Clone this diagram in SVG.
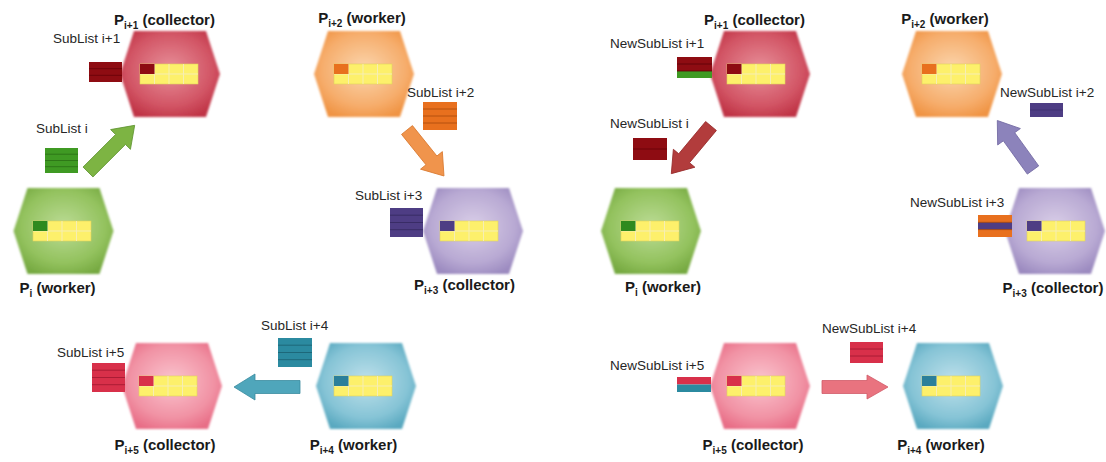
<svg xmlns="http://www.w3.org/2000/svg" xmlns:xlink="http://www.w3.org/1999/xlink" width="1106" height="462" viewBox="0 0 1106 462">
  <style>
    .lbl { font-family: "Liberation Sans", Arial, sans-serif; font-size: 13.5px; fill: #262626; }
    .ttl { font-family: "Liberation Sans", Arial, sans-serif; font-size: 15px; font-weight: bold; fill: #1a1a1a; text-anchor: middle; }
    .sub { font-size: 10px; }
    .hexshape { filter: url(#soft); }
    .arrow { stroke-width: 0.8; }
  </style>
  <defs>
    <filter id="soft" x="-10%" y="-10%" width="120%" height="120%">
      <feGaussianBlur stdDeviation="0.9"/>
    </filter>
    <radialGradient id="gRed" cx="50%" cy="45%" r="60%">
      <stop offset="0" stop-color="#e8909a"/>
      <stop offset="0.7" stop-color="#d25565"/>
      <stop offset="1" stop-color="#c03446"/>
    </radialGradient>
    <radialGradient id="gOrange" cx="50%" cy="45%" r="60%">
      <stop offset="0" stop-color="#fbd6ae"/>
      <stop offset="0.7" stop-color="#f6ad6c"/>
      <stop offset="1" stop-color="#f09444"/>
    </radialGradient>
    <radialGradient id="gGreen" cx="50%" cy="45%" r="60%">
      <stop offset="0" stop-color="#bcdc96"/>
      <stop offset="0.7" stop-color="#93c25e"/>
      <stop offset="1" stop-color="#77aa42"/>
    </radialGradient>
    <radialGradient id="gPurple" cx="50%" cy="45%" r="60%">
      <stop offset="0" stop-color="#dacfe8"/>
      <stop offset="0.7" stop-color="#b8a9d3"/>
      <stop offset="1" stop-color="#9c8bc0"/>
    </radialGradient>
    <radialGradient id="gPink" cx="50%" cy="45%" r="60%">
      <stop offset="0" stop-color="#fac5cf"/>
      <stop offset="0.7" stop-color="#f192a4"/>
      <stop offset="1" stop-color="#e86e87"/>
    </radialGradient>
    <radialGradient id="gTeal" cx="50%" cy="45%" r="60%">
      <stop offset="0" stop-color="#bfe1eb"/>
      <stop offset="0.7" stop-color="#86c4d6"/>
      <stop offset="1" stop-color="#5aa9c0"/>
    </radialGradient>
    <!-- flat-topped hexagon centred on the origin -->
    <polygon id="hex" class="hexshape" points="-50,0 -36,-43 36,-43 50,0 36,43 -36,43"/>
    <!-- 4 x 2 list of yellow slots -->
    <g id="grid">
      <rect width="58" height="20" fill="#fdf06b" stroke="#e2d25a" stroke-width="0.6"/>
      <path d="M14.5 0V20M29 0V20M43.5 0V20M0 10H58" stroke="#f6eeb4" stroke-width="1"/>
    </g>
  </defs>

  <rect width="1106" height="462" fill="#ffffff"/>

  <!-- ===== left ring: sending sublists ===== -->
  <g id="L-Pi1">
    <use xlink:href="#hex" href="#hex" transform="translate(170,74)" fill="url(#gRed)"/>
    <use xlink:href="#grid" href="#grid" x="140" y="64"/>
    <rect x="140" y="64" width="14.5" height="10" fill="#8e0c12"/>
    <text class="ttl" x="164.5" y="25">P<tspan class="sub" dy="4">i+1</tspan><tspan dy="-4"> (collector)</tspan></text>
  </g>
  <g id="L-Pi2">
    <use xlink:href="#hex" href="#hex" transform="translate(364,74)" fill="url(#gOrange)"/>
    <use xlink:href="#grid" href="#grid" x="334" y="64"/>
    <rect x="334" y="64" width="14.5" height="10" fill="#e8701e"/>
    <text class="ttl" x="362" y="23">P<tspan class="sub" dy="4">i+2</tspan><tspan dy="-4"> (worker)</tspan></text>
  </g>
  <g id="L-Pi">
    <use xlink:href="#hex" href="#hex" transform="translate(63.5,231)" fill="url(#gGreen)"/>
    <use xlink:href="#grid" href="#grid" x="33" y="221"/>
    <rect x="33" y="221" width="14.5" height="10" fill="#2f8a1e"/>
    <text class="ttl" x="57.5" y="293">P<tspan class="sub" dy="4">i</tspan><tspan dy="-4"> (worker)</tspan></text>
  </g>
  <g id="L-Pi3">
    <use xlink:href="#hex" href="#hex" transform="translate(473,231)" fill="url(#gPurple)"/>
    <use xlink:href="#grid" href="#grid" x="440" y="221"/>
    <rect x="440" y="221" width="14.5" height="10" fill="#4e3d84"/>
    <text class="ttl" x="464.5" y="290">P<tspan class="sub" dy="4">i+3</tspan><tspan dy="-4"> (collector)</tspan></text>
  </g>
  <g id="L-Pi5">
    <use xlink:href="#hex" href="#hex" transform="translate(172,386)" fill="url(#gPink)"/>
    <use xlink:href="#grid" href="#grid" x="139" y="376"/>
    <rect x="139" y="376" width="14.5" height="10" fill="#d8304a"/>
    <text class="ttl" x="165" y="450">P<tspan class="sub" dy="4">i+5</tspan><tspan dy="-4"> (collector)</tspan></text>
  </g>
  <g id="L-Pi4">
    <use xlink:href="#hex" href="#hex" transform="translate(366,386)" fill="url(#gTeal)"/>
    <use xlink:href="#grid" href="#grid" x="334" y="376"/>
    <rect x="334" y="376" width="14.5" height="10" fill="#2b7f9a"/>
    <text class="ttl" x="353.5" y="450">P<tspan class="sub" dy="4">i+4</tspan><tspan dy="-4"> (worker)</tspan></text>
  </g>

  <!-- left sublists -->
  <g id="L-sub1">
    <text class="lbl" x="53" y="43">SubList i+1</text>
    <rect x="89" y="62" width="33" height="20" fill="#8e0c12"/>
    <path d="M89 68.7H122M89 75.3H122" stroke="#640008" stroke-width="0.8"/>
  </g>
  <g id="L-sub0">
    <text class="lbl" x="36" y="133">SubList i</text>
    <rect x="45" y="148" width="33" height="25" fill="#3f9a23"/>
    <path d="M45 154.2H78M45 160.5H78M45 166.7H78" stroke="#2a6e14" stroke-width="0.8"/>
  </g>
  <g id="L-sub2">
    <text class="lbl" x="407" y="97">SubList i+2</text>
    <rect x="423" y="102" width="34" height="28" fill="#e8701e"/>
    <path d="M423 109H457M423 116H457M423 123H457" stroke="#a84a0a" stroke-width="0.8"/>
  </g>
  <g id="L-sub3">
    <text class="lbl" x="355" y="200">SubList i+3</text>
    <rect x="390" y="208" width="33" height="29" fill="#4e3d84"/>
    <path d="M390 215.2H423M390 222.5H423M390 229.7H423" stroke="#34285e" stroke-width="0.8"/>
  </g>
  <g id="L-sub4">
    <text class="lbl" x="261" y="330">SubList i+4</text>
    <rect x="278" y="338" width="34" height="29" fill="#2b8aa0"/>
    <path d="M278 345.2H312M278 352.5H312M278 359.7H312" stroke="#1b6070" stroke-width="0.8"/>
  </g>
  <g id="L-sub5">
    <text class="lbl" x="57" y="357">SubList i+5</text>
    <rect x="92" y="363" width="33" height="29" fill="#d8304a"/>
    <path d="M92 370.2H125M92 377.5H125M92 384.7H125" stroke="#a01830" stroke-width="0.8"/>
  </g>

  <!-- ===== right ring: returning new sublists ===== -->
  <g id="R-Pi1">
    <use xlink:href="#hex" href="#hex" transform="translate(760,74)" fill="url(#gRed)"/>
    <use xlink:href="#grid" href="#grid" x="727" y="64"/>
    <rect x="727" y="64" width="14.5" height="10" fill="#8e0c12"/>
    <text class="ttl" x="754.5" y="25">P<tspan class="sub" dy="4">i+1</tspan><tspan dy="-4"> (collector)</tspan></text>
  </g>
  <g id="R-Pi2">
    <use xlink:href="#hex" href="#hex" transform="translate(952,74)" fill="url(#gOrange)"/>
    <use xlink:href="#grid" href="#grid" x="922" y="64"/>
    <rect x="922" y="64" width="14.5" height="10" fill="#e8701e"/>
    <text class="ttl" x="945" y="24">P<tspan class="sub" dy="4">i+2</tspan><tspan dy="-4"> (worker)</tspan></text>
  </g>
  <g id="R-Pi">
    <use xlink:href="#hex" href="#hex" transform="translate(651,231)" fill="url(#gGreen)"/>
    <use xlink:href="#grid" href="#grid" x="621" y="221"/>
    <rect x="621" y="221" width="14.5" height="10" fill="#2f8a1e"/>
    <text class="ttl" x="663" y="292">P<tspan class="sub" dy="4">i</tspan><tspan dy="-4"> (worker)</tspan></text>
  </g>
  <g id="R-Pi3">
    <use xlink:href="#hex" href="#hex" transform="translate(1055,231)" fill="url(#gPurple)"/>
    <use xlink:href="#grid" href="#grid" x="1027" y="221"/>
    <rect x="1027" y="221" width="14.5" height="10" fill="#4e3d84"/>
    <text class="ttl" x="1053" y="293">P<tspan class="sub" dy="4">i+3</tspan><tspan dy="-4"> (collector)</tspan></text>
  </g>
  <g id="R-Pi5">
    <use xlink:href="#hex" href="#hex" transform="translate(760,386)" fill="url(#gPink)"/>
    <use xlink:href="#grid" href="#grid" x="727" y="376"/>
    <rect x="727" y="376" width="14.5" height="10" fill="#d8304a"/>
    <text class="ttl" x="753" y="450">P<tspan class="sub" dy="4">i+5</tspan><tspan dy="-4"> (collector)</tspan></text>
  </g>
  <g id="R-Pi4">
    <use xlink:href="#hex" href="#hex" transform="translate(953,386)" fill="url(#gTeal)"/>
    <use xlink:href="#grid" href="#grid" x="922" y="376"/>
    <rect x="922" y="376" width="14.5" height="10" fill="#2b7f9a"/>
    <text class="ttl" x="941" y="450">P<tspan class="sub" dy="4">i+4</tspan><tspan dy="-4"> (worker)</tspan></text>
  </g>

  <!-- right sublists -->
  <g id="R-sub1">
    <text class="lbl" x="610" y="48">NewSubList i+1</text>
    <rect x="677" y="57" width="35" height="14" fill="#8e0c12"/>
    <rect x="677" y="71" width="35" height="7" fill="#3f9a23"/>
    <path d="M677 64H712M677 71H712" stroke="#5a0008" stroke-width="0.8"/>
  </g>
  <g id="R-sub0">
    <text class="lbl" x="610" y="128">NewSubList i</text>
    <rect x="633" y="138" width="34" height="22" fill="#8e0c12"/>
    <path d="M633 149H667" stroke="#640008" stroke-width="0.8"/>
  </g>
  <g id="R-sub2">
    <text class="lbl" x="1000" y="97">NewSubList i+2</text>
    <rect x="1030" y="103" width="33" height="14" fill="#4e3d84"/>
    <path d="M1030 110H1063" stroke="#3a2c68" stroke-width="0.6"/>
  </g>
  <g id="R-sub3">
    <text class="lbl" x="910" y="207">NewSubList i+3</text>
    <rect x="978" y="215" width="34" height="22" fill="#e8701e"/>
    <rect x="978" y="222.3" width="34" height="7.3" fill="#4e3d84"/>
    <path d="M978 222.3H1012M978 229.6H1012" stroke="#a84a0a" stroke-width="0.8"/>
  </g>
  <g id="R-sub4">
    <text class="lbl" x="822" y="333">NewSubList i+4</text>
    <rect x="850" y="342" width="33" height="21" fill="#d8304a"/>
    <path d="M850 349H883M850 356H883" stroke="#a01830" stroke-width="0.8"/>
  </g>
  <g id="R-sub5">
    <text class="lbl" x="610" y="370">NewSubList i+5</text>
    <rect x="677" y="377" width="34" height="7.5" fill="#d8304a"/>
    <rect x="677" y="384.5" width="34" height="7.5" fill="#2b8aa0"/>
  </g>

  <!-- connectors: block arrows, drawn tail-to-tip along +x then placed -->
  <g id="connectors">
    <path class="arrow" transform="translate(88,172) rotate(-45)" d="M0,-7 L46,-7 L46,-14 L66,0 L46,14 L46,7 L0,7 Z" fill="#7db443" stroke="#5f9330"/>
    <path class="arrow" transform="translate(407,130) rotate(51.2)" d="M0,-7 L39,-7 L39,-14 L59,0 L39,14 L39,7 L0,7 Z" fill="#f0944c" stroke="#d97a30"/>
    <path class="arrow" transform="translate(300,387) rotate(180)" d="M0,-6.5 L45,-6.5 L45,-13 L66,0 L45,13 L45,6.5 L0,6.5 Z" fill="#4fa6bb" stroke="#3a8ca0"/>
    <path class="arrow" transform="translate(711,126) rotate(129.8)" d="M0,-7 L42,-7 L42,-14 L62,0 L42,14 L42,7 L0,7 Z" fill="#b23c3c" stroke="#962a2a"/>
    <path class="arrow" transform="translate(1033,170) rotate(-125.8)" d="M0,-7 L41,-7 L41,-14 L61,0 L41,14 L41,7 L0,7 Z" fill="#8c83bb" stroke="#746aa3"/>
    <path class="arrow" transform="translate(822,387) rotate(0)" d="M0,-6.5 L45,-6.5 L45,-12 L66,0 L45,12 L45,6.5 L0,6.5 Z" fill="#e9737f" stroke="#d05a68"/>
  </g>
</svg>
